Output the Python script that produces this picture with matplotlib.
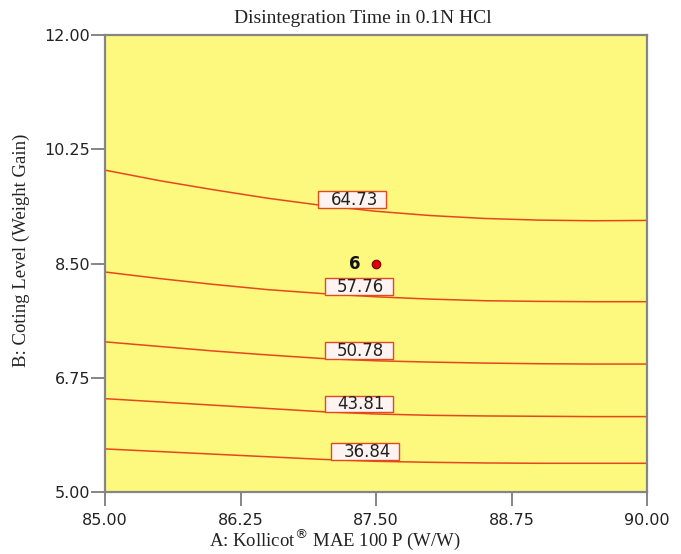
import numpy as np
import matplotlib
matplotlib.use("Agg")
import matplotlib.pyplot as plt
from matplotlib.path import Path

# Factor A grid (Kollicot MAE 100 P, W/W) at which each contour is traced
a_grid = [85.0, 85.5, 86.0, 86.5, 87.0, 87.5, 88.0, 88.5, 89.0, 89.5, 90.0]

# Contour levels of disintegration time and the B (coating level) values of each
levels = [64.73, 57.76, 50.78, 43.81, 36.84]
b_64_73 = [9.93, 9.77, 9.63, 9.50, 9.39, 9.30, 9.235, 9.19, 9.165, 9.155, 9.16]
b_57_76 = [8.37, 8.27, 8.18, 8.10, 8.04, 7.99, 7.955, 7.93, 7.92, 7.915, 7.915]
b_50_78 = [7.30, 7.23, 7.16, 7.10, 7.045, 7.01, 6.99, 6.975, 6.965, 6.96, 6.96]
b_43_81 = [6.43, 6.38, 6.33, 6.28, 6.23, 6.195, 6.175, 6.165, 6.16, 6.155, 6.155]
b_36_84 = [5.66, 5.62, 5.58, 5.54, 5.50, 5.47, 5.455, 5.445, 5.44, 5.44, 5.44]
contour_b = [b_64_73, b_57_76, b_50_78, b_43_81, b_36_84]

# Where along A each contour carries its label
label_a = [87.30, 87.36, 87.36, 87.36, 87.42]

# Design point (centre point, 6 replicates)
point_a = [87.5]
point_b = [8.5]
point_count = ["6"]

x_ticks = [85.00, 86.25, 87.50, 88.75, 90.00]
y_ticks = [5.00, 6.75, 8.50, 10.25, 12.00]

line_color = "#e5481e"
fill_color = "#fdf87e"
spine_color = "#858585"


def label_box(x0, y0, width, height, mutation_size):
    """Flat rectangle around a contour label: wide at the sides, snug top and bottom."""
    left = x0 - 0.75 * mutation_size
    right = x0 + width + 0.5 * mutation_size
    bottom = y0 + 0.08 * mutation_size
    top = y0 + height - 0.02 * mutation_size
    return Path([(left, bottom), (right, bottom), (right, top), (left, top), (left, bottom)],
                closed=True)


fig = plt.figure(figsize=(6.81, 5.54), dpi=100)
ax = fig.add_axes([0.1542, 0.1119, 0.7959, 0.8249])
ax.set_facecolor(fill_color)
ax.set_xlim(85, 90)
ax.set_ylim(5, 12)

for lev, bvals, la in zip(levels, contour_b, label_a):
    ax.plot(a_grid, bvals, color=line_color, lw=1.1, zorder=2)
    lb = np.interp(la, a_grid, bvals)
    ax.annotate(f"{lev:.2f}", xy=(la, lb), xytext=(0, 6.5), textcoords="offset points",
                ha="center", va="center", fontsize=12, family="DejaVu Sans",
                color="#222222", zorder=4,
                bbox=dict(boxstyle=label_box, fc="#fdf4f2", ec=line_color, lw=1.0))

ax.scatter(point_a, point_b, s=38, color="#e00000", edgecolors="#7a0000",
           linewidths=0.8, zorder=5)
for pa, pb, txt in zip(point_a, point_b, point_count):
    ax.annotate(txt, xy=(pa, pb), xytext=(-15, 0), textcoords="offset points",
                ha="center", va="center", fontsize=12, fontweight="bold",
                family="DejaVu Sans", color="#111111", zorder=5)

ax.set_xticks(x_ticks)
ax.set_yticks(y_ticks)
ax.set_xticklabels([f"{v:.2f}" for v in x_ticks])
ax.set_yticklabels([f"{v:.2f}" for v in y_ticks])
ax.tick_params(axis="both", direction="out", length=10, width=1.4, color=spine_color,
               labelsize=11.5, labelcolor="#222222")
ax.tick_params(axis="y", pad=0.5)
ax.tick_params(axis="x", pad=5)
for lab in ax.get_xticklabels() + ax.get_yticklabels():
    lab.set_family("DejaVu Sans")
for sp in ax.spines.values():
    sp.set_color(spine_color)
    sp.set_linewidth(1.6)

serif = ["Liberation Serif", "DejaVu Serif"]
fig.text(0.533, 0.9675, "Disintegration Time in 0.1N HCl", ha="center", va="center",
         fontsize=14, family=serif, color="#222222")
fig.text(0.492, 0.026, r"A: Kollicot$^{\circledR}$ MAE 100 P (W/W)", ha="center",
         va="center", fontsize=13.5, family=serif, color="#222222")
fig.text(0.032, 0.549, "B: Coting Level (Weight Gain)", ha="center", va="center",
         rotation=90, fontsize=13.5, family=serif, color="#222222")

fig.savefig("out.png", dpi=100, facecolor="white")
